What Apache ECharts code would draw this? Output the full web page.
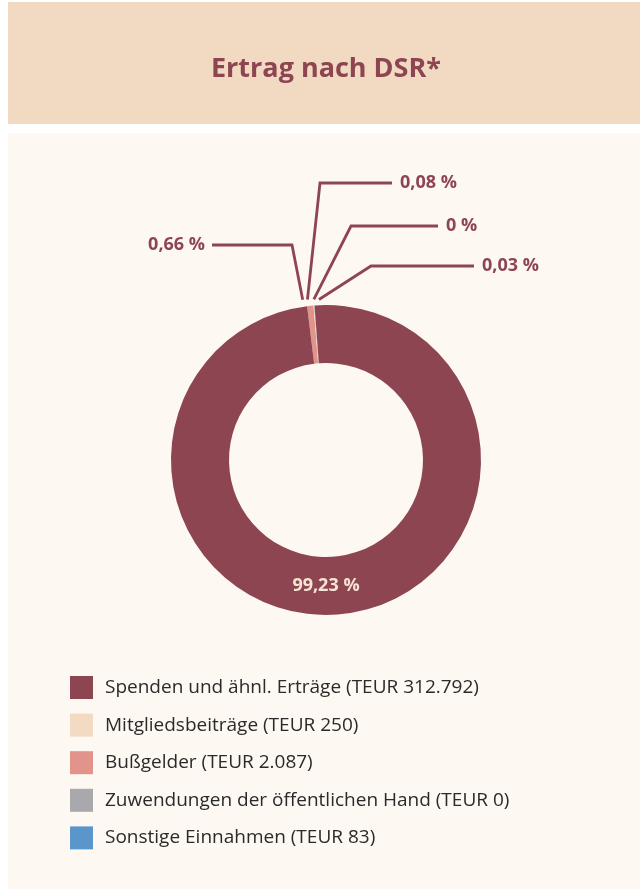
<!DOCTYPE html>
<html>
<head>
<meta charset="utf-8">
<script src="https://cdn.jsdelivr.net/npm/echarts@6/dist/echarts.min.js"></script>
<style>
  html, body { margin: 0; padding: 0; background: #fff; }
  #chart { width: 640px; height: 891px; }
</style>
</head>
<body>
<div id="chart"></div>
<script>
// Ertrag nach DSR* (Werte in TEUR)
const categories = ['Spenden und ähnl. Erträge', 'Mitgliedsbeiträge', 'Bußgelder', 'Zuwendungen der öffentlichen Hand', 'Sonstige Einnahmen'];
const values = [312792, 250, 2087, 0, 83];
const colors = ['#8d4551', '#f2dac3', '#e3948a', '#a8a8ad', '#5b96cb'];
// Reihenfolge der Segmente im Uhrzeigersinn (die kleinen liegen links von 12 Uhr)
const sliceOrder = [2, 1, 3, 4, 0];

const CX = 326, CY = 460, R0 = 97, R1 = 155, START = 97;
const maroon = '#8d4551';

// Führungslinien der kleinen Segmente: Verschiebung am Fuß, Knick, Ende der Waagerechten
const leaders = {
  2: { shift: -7, knee: [292, 245], end: 212, side: 'left' },
  1: { shift: -6, knee: [320, 183], end: 392, side: 'right' },
  3: { shift: 0, knee: [351, 226], end: 438, side: 'right' },
  4: { shift: 5, knee: [371, 266], end: 474, side: 'right' }
};

const total = values.reduce((a, b) => a + b, 0);
const teur = v => String(v).replace(/\B(?=(\d{3})+(?!\d))/g, '.');
const pct = p => (p.percent === 0 ? '0' : String(p.percent).replace('.', ',')) + ' %';

// Mittelwinkel jedes Segments (Grad, mathematisch)
const midAngle = {};
let cum = 0;
sliceOrder.forEach(i => {
  midAngle[i] = START - 360 * (cum + values[i] / 2) / total;
  cum += values[i];
});

const chart = echarts.init(document.getElementById('chart'));

chart.setOption({
  backgroundColor: '#fff',
  animation: false,
  graphic: [
    { type: 'rect', z: -10, silent: true, shape: { x: 8, y: 2, width: 632, height: 122 }, style: { fill: '#f1d9c2' } },
    { type: 'rect', z: -10, silent: true, shape: { x: 8, y: 133, width: 632, height: 756 }, style: { fill: '#fdf8f2' } }
  ],
  title: {
    text: 'Ertrag nach DSR*',
    left: 326,
    top: 56,
    padding: 0,
    textAlign: 'center',
    textStyle: { fontFamily: 'Open Sans', fontWeight: 'bold', fontSize: 27, color: maroon }
  },
  legend: {
    data: categories,
    orient: 'vertical',
    left: 70,
    top: 676,
    padding: 0,
    itemWidth: 23,
    itemHeight: 23,
    itemGap: 14.6,
    icon: 'rect',
    selectedMode: false,
    formatter: name => name + ' (TEUR ' + teur(values[categories.indexOf(name)]) + ')',
    textStyle: { fontFamily: 'Open Sans', fontSize: 19, color: '#2a2a2a', padding: [0, 0, 0, 7] }
  },
  series: [{
    type: 'pie',
    center: [CX, CY],
    radius: [R0, R1],
    startAngle: START,
    clockwise: true,
    avoidLabelOverlap: false,
    silent: true,
    emphasis: { disabled: true },
    data: sliceOrder.map(i => ({
      name: categories[i],
      value: values[i],
      itemStyle: { color: colors[i] },
      label: i === 0 ? { position: 'inside', color: '#f6e4d4' } : {},
      labelLine: { show: i !== 0 }
    })),
    label: {
      show: true,
      position: 'outside',
      formatter: pct,
      fontFamily: 'Open Sans',
      fontWeight: 'bold',
      fontSize: 18,
      color: maroon
    },
    labelLine: { show: true, length: 10, length2: 10, lineStyle: { color: maroon, width: 2.8 } },
    labelLayout: p => {
      const i = sliceOrder[p.dataIndex];
      const L = leaders[i];
      if (!L) {
        return { x: CX, y: CY + (R0 + R1) / 2, align: 'center', verticalAlign: 'middle' };
      }
      const a = midAngle[i] * Math.PI / 180;
      const foot = [CX + Math.cos(a) * 161 + L.shift, CY - Math.sin(a) * 161];
      const y = L.knee[1];
      return {
        x: L.side === 'left' ? L.end - 7 : L.end + 8,
        y: y,
        align: L.side === 'left' ? 'right' : 'left',
        verticalAlign: 'middle',
        labelLinePoints: [foot, L.knee, [L.end, y]]
      };
    }
  }]
});
</script>
</body>
</html>
